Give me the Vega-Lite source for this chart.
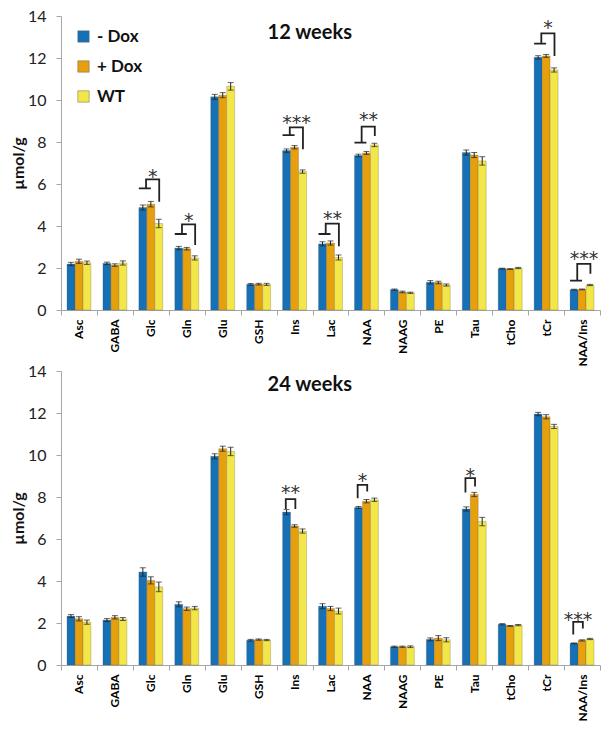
{
  "$schema": "https://vega.github.io/schema/vega-lite/v6.json",
  "padding": {"left": 10, "top": 8, "right": 5, "bottom": 4},
  "background": "white",
  "config": {
    "view": {"stroke": null},
    "font": "Lato",
    "axis": {"grid": false, "domainColor": "#a6a6a6", "tickColor": "#a6a6a6", "tickSize": 5, "labelColor": "#222", "titleColor": "#111"}
  },
  "datasets": {
    "b12": [
      {"met": "Asc", "grp": "- Dox", "val": 2.19, "err": 0.08}, {"met": "Asc", "grp": "+ Dox", "val": 2.32, "err": 0.1}, {"met": "Asc", "grp": "WT", "val": 2.25, "err": 0.08},
      {"met": "GABA", "grp": "- Dox", "val": 2.22, "err": 0.06}, {"met": "GABA", "grp": "+ Dox", "val": 2.14, "err": 0.06}, {"met": "GABA", "grp": "WT", "val": 2.24, "err": 0.1},
      {"met": "Glc", "grp": "- Dox", "val": 4.88, "err": 0.12}, {"met": "Glc", "grp": "+ Dox", "val": 5.04, "err": 0.13}, {"met": "Glc", "grp": "WT", "val": 4.12, "err": 0.2},
      {"met": "Gln", "grp": "- Dox", "val": 2.95, "err": 0.08}, {"met": "Gln", "grp": "+ Dox", "val": 2.92, "err": 0.06}, {"met": "Gln", "grp": "WT", "val": 2.48, "err": 0.1},
      {"met": "Glu", "grp": "- Dox", "val": 10.15, "err": 0.12}, {"met": "Glu", "grp": "+ Dox", "val": 10.23, "err": 0.12}, {"met": "Glu", "grp": "WT", "val": 10.65, "err": 0.18},
      {"met": "GSH", "grp": "- Dox", "val": 1.22, "err": 0.04}, {"met": "GSH", "grp": "+ Dox", "val": 1.23, "err": 0.04}, {"met": "GSH", "grp": "WT", "val": 1.22, "err": 0.05},
      {"met": "Ins", "grp": "- Dox", "val": 7.59, "err": 0.08}, {"met": "Ins", "grp": "+ Dox", "val": 7.75, "err": 0.08}, {"met": "Ins", "grp": "WT", "val": 6.59, "err": 0.08},
      {"met": "Lac", "grp": "- Dox", "val": 3.15, "err": 0.1}, {"met": "Lac", "grp": "+ Dox", "val": 3.19, "err": 0.1}, {"met": "Lac", "grp": "WT", "val": 2.5, "err": 0.12},
      {"met": "NAA", "grp": "- Dox", "val": 7.36, "err": 0.06}, {"met": "NAA", "grp": "+ Dox", "val": 7.48, "err": 0.07}, {"met": "NAA", "grp": "WT", "val": 7.86, "err": 0.08},
      {"met": "NAAG", "grp": "- Dox", "val": 0.97, "err": 0.03}, {"met": "NAAG", "grp": "+ Dox", "val": 0.86, "err": 0.04}, {"met": "NAAG", "grp": "WT", "val": 0.82, "err": 0.03},
      {"met": "PE", "grp": "- Dox", "val": 1.32, "err": 0.08}, {"met": "PE", "grp": "+ Dox", "val": 1.31, "err": 0.06}, {"met": "PE", "grp": "WT", "val": 1.19, "err": 0.05},
      {"met": "Tau", "grp": "- Dox", "val": 7.5, "err": 0.12}, {"met": "Tau", "grp": "+ Dox", "val": 7.38, "err": 0.12}, {"met": "Tau", "grp": "WT", "val": 7.1, "err": 0.2},
      {"met": "tCho", "grp": "- Dox", "val": 1.97, "err": 0.02}, {"met": "tCho", "grp": "+ Dox", "val": 1.95, "err": 0.02}, {"met": "tCho", "grp": "WT", "val": 2.0, "err": 0.03},
      {"met": "tCr", "grp": "- Dox", "val": 12.03, "err": 0.08}, {"met": "tCr", "grp": "+ Dox", "val": 12.1, "err": 0.07}, {"met": "tCr", "grp": "WT", "val": 11.43, "err": 0.1},
      {"met": "NAA/Ins", "grp": "- Dox", "val": 0.97, "err": 0.02}, {"met": "NAA/Ins", "grp": "+ Dox", "val": 0.98, "err": 0.02}, {"met": "NAA/Ins", "grp": "WT", "val": 1.19, "err": 0.03}
    ],
    "b24": [
      {"met": "Asc", "grp": "- Dox", "val": 2.33, "err": 0.07}, {"met": "Asc", "grp": "+ Dox", "val": 2.2, "err": 0.1}, {"met": "Asc", "grp": "WT", "val": 2.04, "err": 0.1},
      {"met": "GABA", "grp": "- Dox", "val": 2.14, "err": 0.07}, {"met": "GABA", "grp": "+ Dox", "val": 2.27, "err": 0.08}, {"met": "GABA", "grp": "WT", "val": 2.19, "err": 0.07},
      {"met": "Glc", "grp": "- Dox", "val": 4.43, "err": 0.2}, {"met": "Glc", "grp": "+ Dox", "val": 4.03, "err": 0.17}, {"met": "Glc", "grp": "WT", "val": 3.72, "err": 0.23},
      {"met": "Gln", "grp": "- Dox", "val": 2.89, "err": 0.12}, {"met": "Gln", "grp": "+ Dox", "val": 2.68, "err": 0.08}, {"met": "Gln", "grp": "WT", "val": 2.71, "err": 0.08},
      {"met": "Glu", "grp": "- Dox", "val": 9.94, "err": 0.12}, {"met": "Glu", "grp": "+ Dox", "val": 10.3, "err": 0.12}, {"met": "Glu", "grp": "WT", "val": 10.17, "err": 0.2},
      {"met": "GSH", "grp": "- Dox", "val": 1.18, "err": 0.04}, {"met": "GSH", "grp": "+ Dox", "val": 1.21, "err": 0.03}, {"met": "GSH", "grp": "WT", "val": 1.19, "err": 0.03},
      {"met": "Ins", "grp": "- Dox", "val": 7.28, "err": 0.12}, {"met": "Ins", "grp": "+ Dox", "val": 6.62, "err": 0.06}, {"met": "Ins", "grp": "WT", "val": 6.38, "err": 0.1},
      {"met": "Lac", "grp": "- Dox", "val": 2.8, "err": 0.12}, {"met": "Lac", "grp": "+ Dox", "val": 2.69, "err": 0.1}, {"met": "Lac", "grp": "WT", "val": 2.57, "err": 0.14},
      {"met": "NAA", "grp": "- Dox", "val": 7.5, "err": 0.05}, {"met": "NAA", "grp": "+ Dox", "val": 7.8, "err": 0.08}, {"met": "NAA", "grp": "WT", "val": 7.87, "err": 0.08},
      {"met": "NAAG", "grp": "- Dox", "val": 0.87, "err": 0.03}, {"met": "NAAG", "grp": "+ Dox", "val": 0.87, "err": 0.03}, {"met": "NAAG", "grp": "WT", "val": 0.87, "err": 0.04},
      {"met": "PE", "grp": "- Dox", "val": 1.22, "err": 0.07}, {"met": "PE", "grp": "+ Dox", "val": 1.28, "err": 0.12}, {"met": "PE", "grp": "WT", "val": 1.2, "err": 0.1},
      {"met": "Tau", "grp": "- Dox", "val": 7.43, "err": 0.1}, {"met": "Tau", "grp": "+ Dox", "val": 8.12, "err": 0.1}, {"met": "Tau", "grp": "WT", "val": 6.83, "err": 0.2},
      {"met": "tCho", "grp": "- Dox", "val": 1.94, "err": 0.03}, {"met": "tCho", "grp": "+ Dox", "val": 1.86, "err": 0.02}, {"met": "tCho", "grp": "WT", "val": 1.9, "err": 0.03},
      {"met": "tCr", "grp": "- Dox", "val": 11.95, "err": 0.08}, {"met": "tCr", "grp": "+ Dox", "val": 11.82, "err": 0.1}, {"met": "tCr", "grp": "WT", "val": 11.36, "err": 0.1},
      {"met": "NAA/Ins", "grp": "- Dox", "val": 1.03, "err": 0.02}, {"met": "NAA/Ins", "grp": "+ Dox", "val": 1.17, "err": 0.03}, {"met": "NAA/Ins", "grp": "WT", "val": 1.24, "err": 0.03}
    ],
    "k12": [
      {"met": "Glc", "id": "Glc", "i": 1, "xo": 0, "y": 5.79}, {"met": "Glc", "id": "Glc", "i": 2, "xo": 1.5, "y": 5.79}, {"met": "Glc", "id": "Glc", "i": 3, "xo": 0.9, "y": 5.79}, {"met": "Glc", "id": "Glc", "i": 4, "xo": 0.9, "y": 6.22}, {"met": "Glc", "id": "Glc", "i": 5, "xo": 2.55, "y": 6.22}, {"met": "Glc", "id": "Glc", "i": 6, "xo": 2.55, "y": 5.16},
      {"met": "Gln", "id": "Gln", "i": 1, "xo": 0, "y": 3.62}, {"met": "Gln", "id": "Gln", "i": 2, "xo": 1.5, "y": 3.62}, {"met": "Gln", "id": "Gln", "i": 3, "xo": 0.9, "y": 3.62}, {"met": "Gln", "id": "Gln", "i": 4, "xo": 0.9, "y": 4.08}, {"met": "Gln", "id": "Gln", "i": 5, "xo": 2.55, "y": 4.08}, {"met": "Gln", "id": "Gln", "i": 6, "xo": 2.55, "y": 3.1},
      {"met": "Ins", "id": "Ins", "i": 1, "xo": 0, "y": 8.33}, {"met": "Ins", "id": "Ins", "i": 2, "xo": 1.5, "y": 8.33}, {"met": "Ins", "id": "Ins", "i": 3, "xo": 0.9, "y": 8.33}, {"met": "Ins", "id": "Ins", "i": 4, "xo": 0.9, "y": 8.7}, {"met": "Ins", "id": "Ins", "i": 5, "xo": 2.55, "y": 8.7}, {"met": "Ins", "id": "Ins", "i": 6, "xo": 2.55, "y": 7.65},
      {"met": "Lac", "id": "Lac", "i": 1, "xo": 0, "y": 3.62}, {"met": "Lac", "id": "Lac", "i": 2, "xo": 1.5, "y": 3.62}, {"met": "Lac", "id": "Lac", "i": 3, "xo": 0.9, "y": 3.62}, {"met": "Lac", "id": "Lac", "i": 4, "xo": 0.9, "y": 4.11}, {"met": "Lac", "id": "Lac", "i": 5, "xo": 2.55, "y": 4.11}, {"met": "Lac", "id": "Lac", "i": 6, "xo": 2.55, "y": 3.03},
      {"met": "NAA", "id": "NAA", "i": 1, "xo": 0, "y": 7.97}, {"met": "NAA", "id": "NAA", "i": 2, "xo": 1.5, "y": 7.97}, {"met": "NAA", "id": "NAA", "i": 3, "xo": 0.9, "y": 7.97}, {"met": "NAA", "id": "NAA", "i": 4, "xo": 0.9, "y": 8.73}, {"met": "NAA", "id": "NAA", "i": 5, "xo": 2.55, "y": 8.73}, {"met": "NAA", "id": "NAA", "i": 6, "xo": 2.55, "y": 8.29},
      {"met": "tCr", "id": "tCr", "i": 1, "xo": 0, "y": 12.68}, {"met": "tCr", "id": "tCr", "i": 2, "xo": 1.5, "y": 12.68}, {"met": "tCr", "id": "tCr", "i": 3, "xo": 0.9, "y": 12.68}, {"met": "tCr", "id": "tCr", "i": 4, "xo": 0.9, "y": 13.17}, {"met": "tCr", "id": "tCr", "i": 5, "xo": 2.55, "y": 13.17}, {"met": "tCr", "id": "tCr", "i": 6, "xo": 2.55, "y": 12.1},
      {"met": "NAA/Ins", "id": "NAA/Ins", "i": 1, "xo": 0, "y": 1.4}, {"met": "NAA/Ins", "id": "NAA/Ins", "i": 2, "xo": 1.5, "y": 1.4}, {"met": "NAA/Ins", "id": "NAA/Ins", "i": 3, "xo": 0.9, "y": 1.4}, {"met": "NAA/Ins", "id": "NAA/Ins", "i": 4, "xo": 0.9, "y": 2.2}, {"met": "NAA/Ins", "id": "NAA/Ins", "i": 5, "xo": 2.55, "y": 2.2}, {"met": "NAA/Ins", "id": "NAA/Ins", "i": 6, "xo": 2.55, "y": 1.73}
    ],
    "s12": [
      {"met": "Glc", "xo": 1.75, "y": 6.59, "t": "*"},
      {"met": "Gln", "xo": 1.75, "y": 4.48, "t": "*"},
      {"met": "Ins", "xo": 1.75, "y": 9.13, "t": "***"},
      {"met": "Lac", "xo": 1.75, "y": 4.58, "t": "**"},
      {"met": "NAA", "xo": 1.75, "y": 9.29, "t": "**"},
      {"met": "tCr", "xo": 1.75, "y": 13.68, "t": "*"},
      {"met": "NAA/Ins", "xo": 1.75, "y": 2.65, "t": "***"}
    ],
    "k24": [
      {"met": "Ins", "id": "Ins", "i": 1, "xo": 0.4, "y": 7.43}, {"met": "Ins", "id": "Ins", "i": 2, "xo": 0.4, "y": 7.9}, {"met": "Ins", "id": "Ins", "i": 3, "xo": 1.6, "y": 7.9}, {"met": "Ins", "id": "Ins", "i": 4, "xo": 1.6, "y": 7.43},
      {"met": "NAA", "id": "NAA", "i": 1, "xo": 0.4, "y": 7.94}, {"met": "NAA", "id": "NAA", "i": 2, "xo": 0.4, "y": 8.58}, {"met": "NAA", "id": "NAA", "i": 3, "xo": 1.6, "y": 8.58}, {"met": "NAA", "id": "NAA", "i": 4, "xo": 1.6, "y": 8.26},
      {"met": "Tau", "id": "Tau", "i": 1, "xo": 0.4, "y": 8.21}, {"met": "Tau", "id": "Tau", "i": 2, "xo": 0.4, "y": 8.9}, {"met": "Tau", "id": "Tau", "i": 3, "xo": 1.6, "y": 8.9}, {"met": "Tau", "id": "Tau", "i": 4, "xo": 1.6, "y": 8.5},
      {"met": "NAA/Ins", "id": "NAA/Ins", "i": 1, "xo": 0.4, "y": 1.45}, {"met": "NAA/Ins", "id": "NAA/Ins", "i": 2, "xo": 0.4, "y": 2.05}, {"met": "NAA/Ins", "id": "NAA/Ins", "i": 3, "xo": 1.6, "y": 2.05}, {"met": "NAA/Ins", "id": "NAA/Ins", "i": 4, "xo": 1.6, "y": 1.74}
    ],
    "s24": [
      {"met": "Ins", "xo": 1.0, "y": 8.45, "t": "**"},
      {"met": "NAA", "xo": 1.0, "y": 8.98, "t": "*"},
      {"met": "Tau", "xo": 1.0, "y": 9.22, "t": "*"},
      {"met": "NAA/Ins", "xo": 1.0, "y": 2.37, "t": "***"}
    ]
  },
  "resolve": {"legend": {"color": "independent"}},
  "spacing": -4,
  "vconcat": [
    {
      "width": 539,
      "height": 294,
      "resolve": {"scale": {"xOffset": "independent"}},
      "layer": [
        {
          "data": {"name": "b12"},
          "mark": {"type": "bar", "stroke": "#555", "strokeWidth": 0.5, "strokeOpacity": 0.5},
          "encoding": {
            "x": {"field": "met", "type": "nominal", "scale": {"domain": ["Asc","GABA","Glc","Gln","Glu","GSH","Ins","Lac","NAA","NAAG","PE","Tau","tCho","tCr","NAA/Ins"], "paddingInner": 0, "paddingOuter": 0},
                  "axis": {"title": null, "labelAngle": -90, "labelFontWeight": "bold", "labelFontSize": 12, "labelColor": "#000", "tickBand": "extent", "labelPadding": 4}},
            "xOffset": {"field": "grp", "type": "nominal", "scale": {"domain": ["- Dox", "+ Dox", "WT"], "paddingInner": 0, "paddingOuter": 0.75}},
            "y": {"field": "val", "type": "quantitative", "title": "µmol/g", "scale": {"domain": [0, 14], "nice": false},
                  "axis": {"values": [0,2,4,6,8,10,12,14], "title": "µmol/g", "titleFontSize": 16, "titleFontWeight": "bold", "titlePadding": 1, "labelFontSize": 16, "labelPadding": 10}},
            "color": {"field": "grp", "type": "nominal", "scale": {"domain": ["- Dox", "+ Dox", "WT"], "range": ["#1570b5", "#e6a00e", "#f2e648"]},
                      "legend": {"title": null, "orient": "none", "legendX": 14, "legendY": 12, "padding": 0, "symbolType": "square", "symbolSize": 130, "symbolStrokeColor": "#666", "symbolStrokeWidth": 0.5, "labelFontSize": 17, "labelFontWeight": "bold", "labelColor": "#111", "rowPadding": 12, "labelOffset": 5}}
          }
        },
        {
          "data": {"name": "b12"},
          "mark": {"type": "errorbar", "color": "#222", "ticks": {"size": 6}, "thickness": 1},
          "encoding": {
            "x": {"field": "met", "type": "nominal"},
            "xOffset": {"field": "grp", "type": "nominal", "scale": {"domain": ["- Dox", "+ Dox", "WT"], "paddingInner": 0, "paddingOuter": 0.75}},
            "y": {"field": "val", "type": "quantitative", "title": "µmol/g"},
            "yError": {"field": "err"}
          }
        },
        {
          "data": {"name": "k12"},
          "mark": {"type": "line", "color": "#222", "strokeWidth": 1.8},
          "encoding": {
            "x": {"field": "met", "type": "nominal"},
            "xOffset": {"field": "xo", "type": "quantitative", "scale": {"domain": [-0.75, 3.75]}},
            "y": {"field": "y", "type": "quantitative", "title": "µmol/g"},
            "detail": {"field": "id"},
            "order": {"field": "i"}
          }
        },
        {
          "data": {"name": "s12"},
          "mark": {"type": "text", "font": "DejaVu Sans", "fontSize": 19, "color": "#333", "baseline": "middle", "dy": 5},
          "encoding": {
            "x": {"field": "met", "type": "nominal"},
            "xOffset": {"field": "xo", "type": "quantitative", "scale": {"domain": [-0.75, 3.75]}},
            "y": {"field": "y", "type": "quantitative", "title": "µmol/g"},
            "text": {"field": "t"}
          }
        },
        {
          "data": {"values": [{"t": "12 weeks"}]},
          "mark": {"type": "text", "fontSize": 20, "fontWeight": "bold", "color": "#111", "baseline": "middle", "align": "center"},
          "encoding": {
            "x": {"datum": "Lac"},
            "xOffset": {"datum": -1.1, "type": "quantitative", "scale": {"domain": [-0.75, 3.75]}},
            "y": {"datum": 13.2, "type": "quantitative"},
            "text": {"field": "t"}
          }
        }
      ]
    },
    {
      "width": 539,
      "height": 294,
      "resolve": {"scale": {"xOffset": "independent"}},
      "layer": [
        {
          "data": {"name": "b24"},
          "mark": {"type": "bar", "stroke": "#555", "strokeWidth": 0.5, "strokeOpacity": 0.5},
          "encoding": {
            "x": {"field": "met", "type": "nominal", "scale": {"domain": ["Asc","GABA","Glc","Gln","Glu","GSH","Ins","Lac","NAA","NAAG","PE","Tau","tCho","tCr","NAA/Ins"], "paddingInner": 0, "paddingOuter": 0},
                  "axis": {"title": null, "labelAngle": -90, "labelFontWeight": "bold", "labelFontSize": 12, "labelColor": "#000", "tickBand": "extent", "labelPadding": 4}},
            "xOffset": {"field": "grp", "type": "nominal", "scale": {"domain": ["- Dox", "+ Dox", "WT"], "paddingInner": 0, "paddingOuter": 0.75}},
            "y": {"field": "val", "type": "quantitative", "title": "µmol/g", "scale": {"domain": [0, 14], "nice": false},
                  "axis": {"values": [0,2,4,6,8,10,12,14], "title": "µmol/g", "titleFontSize": 16, "titleFontWeight": "bold", "titlePadding": 1, "labelFontSize": 16, "labelPadding": 10}},
            "color": {"field": "grp", "type": "nominal", "scale": {"domain": ["- Dox", "+ Dox", "WT"], "range": ["#1570b5", "#e6a00e", "#f2e648"]}, "legend": null}
          }
        },
        {
          "data": {"name": "b24"},
          "mark": {"type": "errorbar", "color": "#222", "ticks": {"size": 6}, "thickness": 1},
          "encoding": {
            "x": {"field": "met", "type": "nominal"},
            "xOffset": {"field": "grp", "type": "nominal", "scale": {"domain": ["- Dox", "+ Dox", "WT"], "paddingInner": 0, "paddingOuter": 0.75}},
            "y": {"field": "val", "type": "quantitative", "title": "µmol/g"},
            "yError": {"field": "err"}
          }
        },
        {
          "data": {"name": "k24"},
          "mark": {"type": "line", "color": "#222", "strokeWidth": 1.8},
          "encoding": {
            "x": {"field": "met", "type": "nominal"},
            "xOffset": {"field": "xo", "type": "quantitative", "scale": {"domain": [-0.75, 3.75]}},
            "y": {"field": "y", "type": "quantitative", "title": "µmol/g"},
            "detail": {"field": "id"},
            "order": {"field": "i"}
          }
        },
        {
          "data": {"name": "s24"},
          "mark": {"type": "text", "font": "DejaVu Sans", "fontSize": 19, "color": "#333", "baseline": "middle", "dy": 5},
          "encoding": {
            "x": {"field": "met", "type": "nominal"},
            "xOffset": {"field": "xo", "type": "quantitative", "scale": {"domain": [-0.75, 3.75]}},
            "y": {"field": "y", "type": "quantitative", "title": "µmol/g"},
            "text": {"field": "t"}
          }
        },
        {
          "data": {"values": [{"t": "24 weeks"}]},
          "mark": {"type": "text", "fontSize": 20, "fontWeight": "bold", "color": "#111", "baseline": "middle", "align": "center"},
          "encoding": {
            "x": {"datum": "Lac"},
            "xOffset": {"datum": -1.1, "type": "quantitative", "scale": {"domain": [-0.75, 3.75]}},
            "y": {"datum": 13.35, "type": "quantitative"},
            "text": {"field": "t"}
          }
        }
      ]
    }
  ]
}
